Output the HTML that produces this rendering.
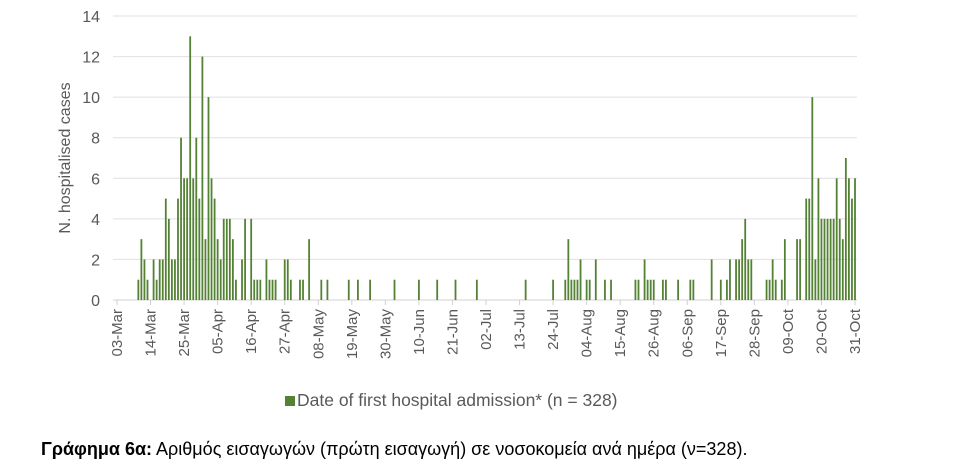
<!DOCTYPE html>
<html><head><meta charset="utf-8">
<style>
html,body{margin:0;padding:0;background:#fff;}
svg{display:block;font-family:"Liberation Sans",sans-serif;}
</style></head>
<body>
<svg id="chart" width="967" height="462" viewBox="0 0 967 462">
  <g id="grid"></g>
  <g id="yticks"></g>
  <g id="bars"></g>
  <g id="xticks"></g>
  <text transform="translate(70,158) rotate(-90)" text-anchor="middle" font-size="16" fill="#595959">N. hospitalised cases</text>
  <g>
    <rect x="285" y="396" width="10" height="10" fill="#548235"/>
    <text x="297" y="406" font-size="17.5" fill="#595959">Date of first hospital admission* (n = 328)</text>
  </g>
  <text x="41" y="455" font-size="18" fill="#000"><tspan font-weight="bold">Γράφημα 6α:</tspan> Αριθμός εισαγωγών (πρώτη εισαγωγή) σε νοσοκομεία ανά ημέρα (ν=328).</text>
</svg>
<script>
const days = [7,8,9,10,12,13,14,15,16,17,18,19,20,21,22,23,24,25,26,27,28,29,30,31,32,33,34,35,36,37,38,39,41,42,44,45,46,47,49,50,51,52,55,56,57,60,61,63,67,69,
 76,79,83,91,99,105,111,118,134,143,147,148,149,150,151,152,154,155,157,160,162,170,171,173,174,175,176,179,180,184,
 188,189,195,198,200,201,203,204,205,206,207,208,213,214,215,216,218,219,223,224,226,227,228,229,230,231,232,233,234,235,236,237,238,239,240,241,242];
const counts = [1,3,2,1,2,1,2,2,5,4,2,2,5,8,6,6,13,6,8,5,12,3,10,6,5,3,2,4,4,4,3,1,2,4,4,1,1,1,2,1,1,1,2,2,1,1,1,3,1,1,
 1,1,1,1,1,1,1,1,1,1,1,3,1,1,1,2,1,1,2,1,1,1,1,2,1,1,1,1,1,1,
 1,1,2,1,1,2,2,2,3,4,2,2,1,1,2,1,1,3,3,3,5,5,10,2,6,4,4,4,4,4,6,4,3,7,6,5,6,2];
const xLabels = ["03-Mar","14-Mar","25-Mar","05-Apr","16-Apr","27-Apr","08-May","19-May","30-May","10-Jun","21-Jun","02-Jul","13-Jul","24-Jul","04-Aug","15-Aug","26-Aug","06-Sep","17-Sep","28-Sep","09-Oct","20-Oct","31-Oct"];
const yTicks = [0,2,4,6,8,10,12,14];

const NS = "http://www.w3.org/2000/svg";
const X0 = 117, X1 = 855, DAYS = 242, Y0 = 300, YTOP = 16, YMAX = 14;
const xs = d => X0 + (X1 - X0) * d / DAYS;
const ys = v => Y0 - (Y0 - YTOP) * v / YMAX;

const grid = document.getElementById('grid');
const yt = document.getElementById('yticks');
yTicks.forEach(v => {
  const l = document.createElementNS(NS,'line');
  
  
  l.setAttribute('x1', 113); l.setAttribute('x2', 857);
  l.setAttribute('y1', ys(v)); l.setAttribute('y2', ys(v));
  l.setAttribute('stroke', v === 0 ? '#d0d0d0' : '#e0e0e0'); l.setAttribute('stroke-width', 1);
  grid.appendChild(l);
  const t = document.createElementNS(NS,'text');
  
  
  t.setAttribute('x', 100); t.setAttribute('y', ys(v) + 6);
  t.setAttribute('text-anchor', 'end'); t.setAttribute('font-size', 16); t.setAttribute('fill', '#595959');
  t.textContent = v;
  yt.appendChild(t);
});

const bars = document.getElementById('bars');
days.forEach((d, i) => {
  const r = document.createElementNS(NS,'rect');
  
  
  r.setAttribute('x', xs(d) - 0.9); r.setAttribute('width', 1.8);
  r.setAttribute('y', ys(counts[i])); r.setAttribute('height', Y0 - ys(counts[i]));
  r.setAttribute('fill', '#548235');
  bars.appendChild(r);
});

const xt = document.getElementById('xticks');
xLabels.forEach((lab, i) => {
  const x = xs(i * 11);
  const tk = document.createElementNS(NS,'line');
  
  
  tk.setAttribute('x1', x); tk.setAttribute('x2', x); tk.setAttribute('y1', Y0); tk.setAttribute('y2', Y0 + 5);
  tk.setAttribute('stroke', '#d0d0d0');
  xt.appendChild(tk);
  const t = document.createElementNS(NS,'text');
  
  
  t.setAttribute('transform', 'translate(' + (x + 5) + ',' + (Y0 + 9) + ') rotate(-90)');
  t.setAttribute('text-anchor', 'end'); t.setAttribute('font-size', 15); t.setAttribute('fill', '#595959');
  t.textContent = lab;
  xt.appendChild(t);
});
</script>
</body></html>
